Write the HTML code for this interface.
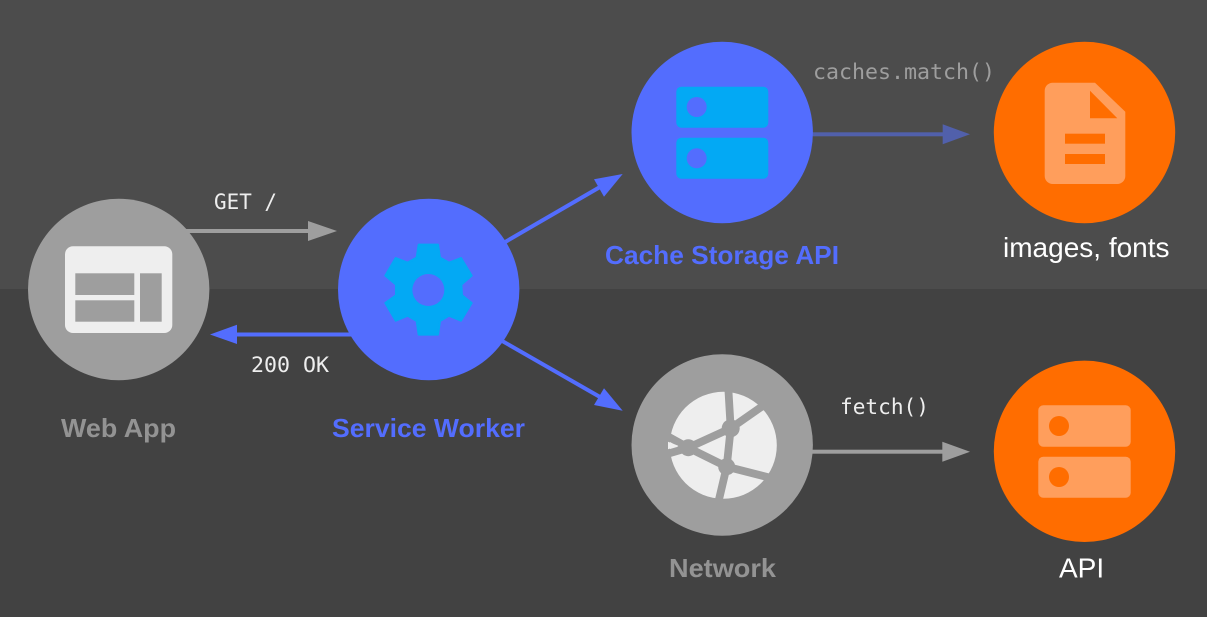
<!DOCTYPE html>
<html lang="en">
<head>
<meta charset="utf-8">
<title>Service Worker diagram</title>
<style>
html,body{margin:0;padding:0;width:1207px;height:617px;overflow:hidden;background:#424242}
svg{display:block}
.m{font-family:"DejaVu Sans Mono",monospace;font-size:21px}
.l{font-family:"Liberation Sans",sans-serif;font-size:26px;font-weight:bold}
.a{font-family:"Liberation Sans",sans-serif;font-size:28px;fill:#fff}
</style>
</head>
<body>
<svg width="1207" height="617" viewBox="0 0 1207 617" xmlns="http://www.w3.org/2000/svg">
<rect width="1207" height="289" fill="#4c4c4c"/>
<rect y="289" width="1207" height="328" fill="#424242"/>

<!-- connectors -->
<g fill="#9e9e9e" stroke="none">
<rect x="186" y="229" width="124" height="4"/>
<polygon points="337,231 308,221 308,241"/>
<rect x="810" y="449.7" width="134" height="4"/>
<polygon points="970,451.7 942.3,441.7 942.3,461.7"/>
</g>
<g fill="#5160ab">
<rect x="810" y="132.3" width="134" height="4"/>
<polygon points="970,134.3 942.7,124.3 942.7,144.3"/>
</g>
<g fill="#536dfe">
<rect x="235" y="332.5" width="120" height="4"/>
<polygon points="210,334.5 237,324.7 237,344"/>
<polygon points="622.7,174 594,179.3 604,196.7"/>
<polygon points="622.7,410.7 594,405 604,388.3"/>
</g>
<g stroke="#536dfe" stroke-width="4" fill="none">
<line x1="500" y1="245" x2="600" y2="187"/>
<line x1="497" y1="338" x2="600" y2="397"/>
</g>

<!-- nodes -->
<circle cx="118.7" cy="289.5" r="90.7" fill="#9e9e9e"/>
<circle cx="428.7" cy="289.5" r="90.7" fill="#536dfe"/>
<circle cx="722.2" cy="132.5" r="90.7" fill="#536dfe"/>
<circle cx="1084.5" cy="132.5" r="90.7" fill="#ff6d00"/>
<circle cx="722.2" cy="445" r="90.7" fill="#9e9e9e"/>
<circle cx="1084.5" cy="451.3" r="90.7" fill="#ff6d00"/>

<!-- web app icon -->
<rect x="65" y="246.3" width="107.3" height="86.7" rx="8" fill="#eeeeee"/>
<g fill="#9e9e9e">
<rect x="75.3" y="273.3" width="59" height="21.7"/>
<rect x="75.3" y="300.3" width="59" height="21.4"/>
<rect x="140" y="273.3" width="21.7" height="48.4"/>
</g>

<!-- gear icon -->
<g transform="translate(375 235) scale(.33333)">
<polygon fill="#03a9f4" stroke="#03a9f4" stroke-width="6" stroke-linejoin="round" points="131,29 189,29 195,68 222,83 258,69 290,122 259,149 261,181 290,204 258,257 222,242 195,258 189,299 131,299 125,258 98,242 62,257 31,204 63,181 63,149 31,122 62,69 98,83 125,68"/>
<circle cx="160" cy="165" r="48" fill="#536dfe"/>
</g>

<!-- cache storage icon -->
<g fill="#03a9f4">
<rect x="676.3" y="86.7" width="92" height="41" rx="5"/>
<rect x="676.3" y="137.7" width="92" height="41" rx="5"/>
</g>
<g fill="#536dfe">
<circle cx="696.7" cy="107" r="10"/>
<circle cx="696.7" cy="158.3" r="10"/>
</g>

<!-- document icon -->
<path d="M1052.7 82.7H1095L1125.3 111.7V176A8 8 0 0 1 1117.3 184H1052.7A8 8 0 0 1 1044.7 176V90.7A8 8 0 0 1 1052.7 82.7Z" fill="#ff9e5c"/>
<g fill="#ff6d00">
<polygon points="1090,90.7 1090,118.3 1117.3,118.3"/>
<rect x="1065" y="133.7" width="40" height="10"/>
<rect x="1065" y="154" width="40" height="10"/>
</g>

<!-- network icon -->
<circle cx="723.3" cy="445.3" r="53.5" fill="#eeeeee"/>
<g stroke="#9e9e9e" stroke-width="7.8" fill="none" stroke-linecap="butt" stroke-linejoin="round">
<path d="M660 432L688.3 447.7 730.7 428.3 771.7 399.7"/>
<path d="M660 456L688.3 447.7 726.7 466.7 780 480.3"/>
<path d="M728 383L730.7 428.3 726.7 466.7 717.3 506.7"/>
</g>
<g fill="#9e9e9e">
<circle cx="688.3" cy="447.7" r="8.5"/>
<circle cx="730.7" cy="428.3" r="9"/>
<circle cx="726.7" cy="466.7" r="8.5"/>
</g>
<polygon points="668,441.7 668,449.3 678.3,445.7" fill="#eeeeee"/>

<!-- server icon, API -->
<g fill="#ff9e5c">
<rect x="1038.3" y="405.3" width="92.4" height="41.4" rx="5"/>
<rect x="1038.3" y="456.7" width="92.4" height="41" rx="5"/>
</g>
<g fill="#ff6d00">
<circle cx="1059" cy="426" r="10"/>
<circle cx="1059" cy="477" r="10"/>
</g>

<!-- connector labels -->
<text class="m" x="214" y="209" fill="#eeeeee" textLength="63" lengthAdjust="spacingAndGlyphs">GET /</text>
<text class="m" x="251" y="372" fill="#eeeeee" textLength="78" lengthAdjust="spacingAndGlyphs">200 OK</text>
<text class="m" x="813" y="79" fill="#9e9e9e" textLength="182" lengthAdjust="spacingAndGlyphs">caches.match()</text>
<text class="m" x="840" y="414" fill="#eeeeee" textLength="89" lengthAdjust="spacingAndGlyphs">fetch()</text>

<!-- node labels -->
<text class="l" x="61" y="437" fill="#939393" textLength="115" lengthAdjust="spacingAndGlyphs">Web App</text>
<text class="l" x="332" y="437" fill="#536dfe" textLength="193" lengthAdjust="spacingAndGlyphs">Service Worker</text>
<text class="l" x="605" y="264" fill="#536dfe" textLength="234" lengthAdjust="spacingAndGlyphs">Cache Storage API</text>
<text class="l" x="669" y="577" fill="#939393" textLength="107" lengthAdjust="spacingAndGlyphs">Network</text>
<text class="a" x="1003" y="257">images, fonts</text>
<text class="a" x="1059" y="577.5">API</text>
</svg>
</body>
</html>
